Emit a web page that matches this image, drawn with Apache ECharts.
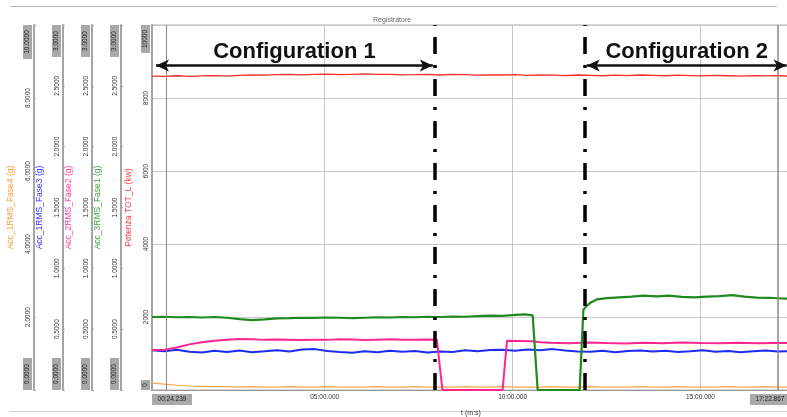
<!DOCTYPE html>
<html><head><meta charset="utf-8">
<script src="https://cdn.jsdelivr.net/npm/echarts@6/dist/echarts.min.js"></script>
<style>html,body{margin:0;padding:0;background:#fff}#c{width:787px;height:417px}</style>
</head><body><div id="c"></div>
<script>
// ---- data (time in seconds) ----
const timeMin = 24.239, timeMax = 1042.867;
const timeTicks = [24.239, 300, 600, 900, 1042.867];
const sampleTimes = [24.239,44,64,84,104,124,144,164,184,204,224,244,264,284,304,324,344,364,384,404,424,444,464,484,504,524,544,564,584,604,624,644,664,684,704,724,744,764,784,804,824,844,864,884,904,924,944,964,984,1004,1024,1042.867];
const powerValues = [8600,8590,8610,8595,8605,8615,8600,8620,8630,8625,8640,8650,8635,8645,8655,8640,8650,8660,8645,8650,8635,8640,8650,8630,8645,8640,8625,8635,8630,8640,8620,8630,8625,8615,8630,8620,8610,8625,8615,8630,8620,8610,8625,8615,8605,8620,8610,8600,8615,8605,8610,8600];
const accFase3Values = [0.327,0.318,0.331,0.315,0.309,0.322,0.312,0.325,0.310,0.318,0.327,0.316,0.333,0.336,0.321,0.312,0.307,0.318,0.311,0.322,0.314,0.320,0.309,0.317,0.313,0.326,0.319,0.328,0.330,0.322,0.333,0.327,0.336,0.325,0.317,0.314,0.322,0.311,0.320,0.325,0.316,0.323,0.312,0.318,0.326,0.315,0.321,0.311,0.319,0.324,0.316,0.320];
const accFase4Values = [0.19,0.16,0.13,0.11,0.10,0.09,0.09,0.08,0.09,0.08,0.08,0.09,0.08,0.08,0.09,0.08,0.08,0.08,0.09,0.08,0.08,0.09,0.08,0.08,0.08,0.09,0.08,0.08,0.09,0.08,0.08,0.08,0.09,0.08,0.08,0.09,0.08,0.08,0.08,0.09,0.08,0.08,0.09,0.08,0.08,0.08,0.09,0.08,0.08,0.09,0.08,0.08];
const fase1Times = [24.239,44,64,84,104,124,144,164,184,204,224,244,264,284,304,324,344,364,384,404,424,444,464,484,504,524,544,564,584,604,620,632,640,707,713,718,725,735,750,770,790,810,830,850,870,890,910,930,950,970,990,1010,1030,1042.867];
const fase1Values = [0.600,0.602,0.598,0.600,0.596,0.600,0.594,0.582,0.575,0.580,0.588,0.590,0.594,0.592,0.596,0.594,0.590,0.594,0.598,0.596,0.600,0.598,0.602,0.600,0.604,0.602,0.608,0.612,0.610,0.618,0.622,0.614,0,0,0.660,0.690,0.720,0.745,0.755,0.762,0.768,0.775,0.770,0.775,0.766,0.762,0.768,0.772,0.780,0.768,0.760,0.758,0.752,0.750];
const fase2Times = [24.239,44,64,84,104,124,144,164,184,204,224,244,264,284,304,324,344,364,384,404,424,444,464,479,488,584,591,610,630,645,660,690,720,750,780,810,840,870,900,930,960,990,1020,1042.867];
const fase2Values = [0.329,0.331,0.350,0.375,0.392,0.405,0.414,0.420,0.418,0.412,0.416,0.414,0.410,0.414,0.412,0.418,0.416,0.410,0.414,0.418,0.414,0.412,0.416,0.414,0,0,0.404,0.402,0.400,0.392,0.388,0.385,0.390,0.386,0.383,0.388,0.385,0.390,0.386,0.384,0.388,0.385,0.387,0.386];
// annotations (time s, power value)
const config1Span = [30.6, 472.6];
const config2Span = [718.3, 1037.5];
const arrowLevel = 8890;
const separators = [475.8, 715.2];
const cursors = [46.6, 1023];

function pair(ts, vs){ return ts.map((t,i)=>[t, vs[i]]); }
function pad(n, w){ let s = String(n); while (s.length < w) s = '0' + s; return s; }
function fmtTime(t){ const ms = Math.round(t*1000); return pad(Math.floor(ms/60000),2)+':'+pad(Math.floor((ms%60000)/1000),2)+'.'+pad(ms%1000,3); }
function near(a,b){ return Math.abs(a-b) < 1e-6; }

const labelFont = 'Liberation Sans';
function yAxisDef(opt){
  return {
    type:'value', position:'left', offset: opt.offset, min: opt.min, max: opt.max, interval: opt.interval,
    name: opt.name, nameLocation:'middle', nameRotate: 90, nameGap: 13,
    nameTextStyle:{color: opt.color, fontSize: 8.5, fontFamily: labelFont},
    axisLine:{show:true, lineStyle:{color:'#a4a4a4', width:2}},
    axisTick:{show:true, inside:true, length:2, lineStyle:{color:'#a4a4a4'}},
    splitLine:{show: !!opt.split, lineStyle:{color:'#c9c9c9', width:1}},
    axisLabel:{
      rotate: 90, margin: 2, fontSize: 6.5, color:'#333', fontFamily: labelFont,
      showMinLabel:true, showMaxLabel:true,
      formatter: function(v){
        const s = v.toFixed(opt.dec);
        if (near(v, opt.max)) return '{b|' + s + '}{s|}';
        if (near(v, opt.min)) return '{s2|}{b2|' + s + '}';
        return s;
      },
      rich:{
        b:{backgroundColor:'#a9a9a9', color:'#222', fontSize:6.5, padding:[1,3], width: opt.wMax, align:'center'},
        s:{width: opt.wMax + 6},
        b2:{backgroundColor:'#a9a9a9', color:'#222', fontSize:6.5, padding:[1,3], width: opt.wMin, align:'center'},
        s2:{width: opt.wMin + 6}
      }
    }
  };
}

const chart = echarts.init(document.getElementById('c'));
const option = {
  animation:false,
  backgroundColor:'#fff',
  title:{text:'Registratore', left:368, top:12, textStyle:{fontSize:7, color:'#666', fontWeight:'normal', fontFamily: labelFont}},
  grid:{left:152, right:-3, top:25, bottom:27, show:true, borderColor:'#aaa', borderWidth:1, containLabel:false, outerBoundsMode:'none'},
  xAxis:{
    type:'value', min: timeMin, max: timeMax, name:'t (m:s)', nameLocation:'middle', nameGap:16,
    nameTextStyle:{fontSize:7, color:'#333', fontFamily: labelFont},
    axisLine:{show:true, onZero:false, lineStyle:{color:'#999'}},
    axisTick:{show:false, customValues: timeTicks},
    splitLine:{show:true, lineStyle:{color:'#c9c9c9'}},
    axisLabel:{
      customValues: timeTicks, fontSize:6.5, color:'#333', margin:4, fontFamily: labelFont,
      formatter: function(v){
        const s = fmtTime(v);
        if (near(v, timeMin)) return '{s|}{b|' + s + '}';
        if (near(v, timeMax)) return '{b|' + s + '}{s|}';
        return s;
      },
      rich:{ b:{backgroundColor:'#a9a9a9', color:'#222', fontSize:6.5, padding:[2,3], width:34, align:'center'}, s:{width:40} }
    }
  },
  yAxis:[
    yAxisDef({offset:0, min:0, max:10000, interval:2000, dec:0, name:'Potenza TOT_L (kw)', color:'#ff3b3b', split:true, wMax:22, wMin:4}),
    yAxisDef({offset:31, min:0, max:3, interval:0.5, dec:4, name:'Acc_3RMS_Fase1 (g)', color:'#3aa63a', wMax:26, wMin:26}),
    yAxisDef({offset:60, min:0, max:3, interval:0.5, dec:4, name:'Acc_2RMS_Fase2 (g)', color:'#ff3aa0', wMax:26, wMin:26}),
    yAxisDef({offset:89, min:0, max:3, interval:0.5, dec:4, name:'Acc_1RMS_Fase3 (g)', color:'#3333ff', wMax:26, wMin:26}),
    yAxisDef({offset:118, min:0, max:10, interval:2, dec:4, name:'Acc_1RMS_Fase4 (g)', color:'#ff9c3a', wMax:28, wMin:26})
  ],
  series:[
    {type:'line', name:'Fase4', yAxisIndex:4, data: pair(sampleTimes, accFase4Values), showSymbol:false, lineStyle:{color:'#ffa24a', width:1.2}},
    {type:'line', name:'Fase3', yAxisIndex:3, data: pair(sampleTimes, accFase3Values), showSymbol:false, lineStyle:{color:'#1d2cf2', width:2}},
    {type:'line', name:'Fase2', yAxisIndex:2, data: pair(fase2Times, fase2Values), showSymbol:false, lineStyle:{color:'#ff2590', width:2}},
    {type:'line', name:'Fase1', yAxisIndex:1, data: pair(fase1Times, fase1Values), showSymbol:false, lineStyle:{color:'#1f8a1f', width:2.2}},
    {type:'line', name:'Potenza', yAxisIndex:0, data: pair(sampleTimes, powerValues), showSymbol:false, lineStyle:{color:'#ff2a2a', width:1.3},
      markLine:{
        silent:true, animation:false, precision:3, symbol:['none','none'],
        data:[
          {xAxis: cursors[0], lineStyle:{color:'#8a8a8a', width:1, type:'solid'}, label:{show:false}},
          {xAxis: cursors[1], lineStyle:{color:'#8a8a8a', width:1.5, type:'solid'}, label:{show:false}},
          {xAxis: separators[0], lineStyle:{color:'#000', width:3.5, type:[17,11,3,11]}, label:{show:false}},
          {xAxis: separators[1], lineStyle:{color:'#000', width:3.5, type:[17,11,3,11]}, label:{show:false}},
          [
            {coord:[config1Span[0], arrowLevel], symbol:'arrow', symbolSize:[9,13], lineStyle:{color:'#111', width:2.5, type:'solid'},
             label:{show:true, position:'middle', formatter:'Configuration 1', fontSize:22, fontWeight:'bold', color:'#111', fontFamily:'Liberation Sans', distance:3}},
            {coord:[config1Span[1], arrowLevel], symbol:'arrow', symbolSize:[9,13]}
          ],
          [
            {coord:[config2Span[0], arrowLevel], symbol:'arrow', symbolSize:[9,13], lineStyle:{color:'#111', width:2.5, type:'solid'},
             label:{show:true, position:'middle', formatter:'Configuration 2', fontSize:22, fontWeight:'bold', color:'#111', fontFamily:'Liberation Sans', distance:3}},
            {coord:[config2Span[1], arrowLevel], symbol:'arrow', symbolSize:[9,13]}
          ]
        ]
      }
    }
  ],
  graphic:[
    {type:'line', shape:{x1:10, y1:6.5, x2:777, y2:6.5}, style:{stroke:'#b5b5b5', lineWidth:1}, silent:true},
    {type:'line', shape:{x1:10, y1:411.5, x2:787, y2:411.5}, style:{stroke:'#d0d0d0', lineWidth:1}, silent:true}
  ]
};
chart.setOption(option);
</script>
</body></html>
